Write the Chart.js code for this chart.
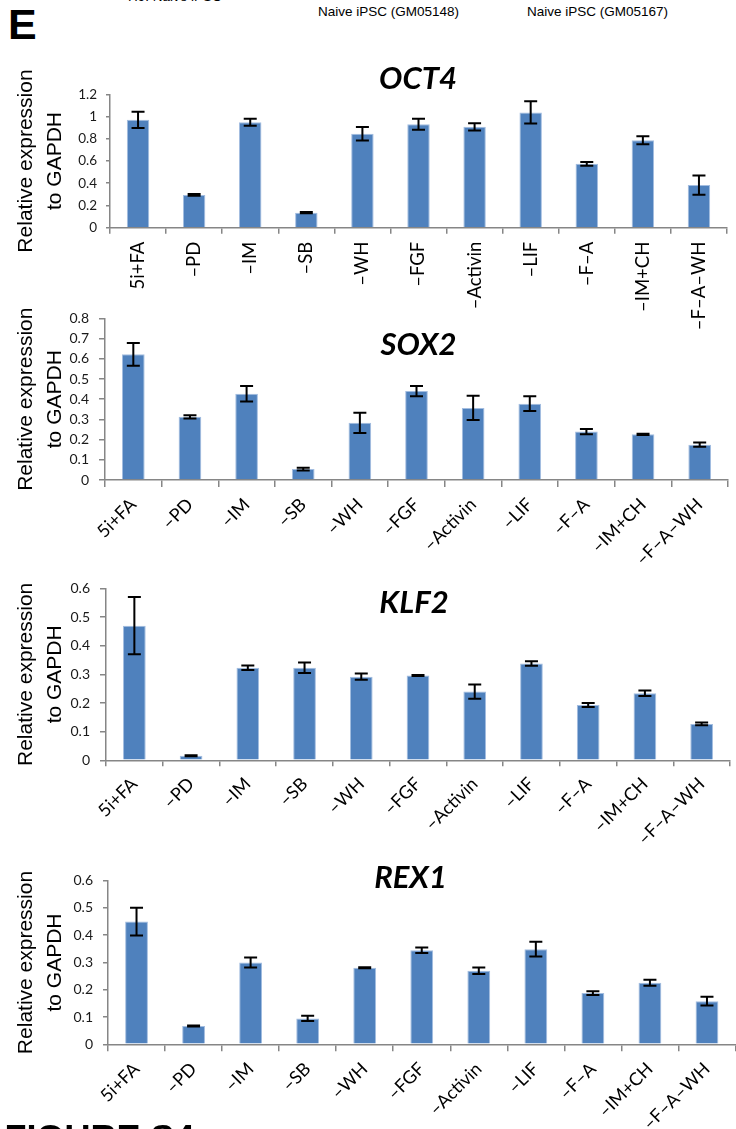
<!DOCTYPE html>
<html lang="en">
<head>
<meta charset="UTF-8">
<title>Figure S4E - naive marker expression</title>
<style>
  * { margin: 0; padding: 0; box-sizing: border-box; }
  body { background: #fff; }
  #page { position: relative; width: 736px; height: 1129px; overflow: hidden; background: #fff; font-family: 'Liberation Sans', Arial, sans-serif; }
  #page canvas { position: absolute; left: 0; }
  .txt { position: absolute; white-space: nowrap; color: #000; line-height: 1; }
  .small { font-size: 13.5px; }
  .panel { font-weight: bold; font-size: 43px; }
  .fig { font-weight: bold; font-size: 36px; }
</style>
<script src="https://cdn.jsdelivr.net/npm/chart.js"></script>
</head>
<body>
<div id="page">
  <div class="txt small" style="left:128px; top:-10px;">H9: Naive iPSC</div>
  <div class="txt small" style="left:318px; top:4.5px;">Naive iPSC (GM05148)</div>
  <div class="txt small" style="left:527px; top:4.5px;">Naive iPSC (GM05167)</div>
  <div class="txt panel" style="left:8px; top:2.6px;">E</div>

  <canvas id="oct4" width="736" height="285" style="top:55px"></canvas>
  <canvas id="sox2" width="736" height="265" style="top:300px"></canvas>
  <canvas id="klf2" width="736" height="285" style="top:570px"></canvas>
  <canvas id="rex1" width="736" height="269" style="top:860px"></canvas>

  <div class="txt fig" style="left:4.5px; top:1120.5px;">FIGURE S4</div>
</div>

<script>
// conditions (x categories)
const conditions = ['5i+FA', '–PD', '–IM', '–SB', '–WH', '–FGF', '–Activin', '–LIF', '–F–A', '–IM+CH', '–F–A–WH'];

// values, relative to GAPDH
const oct4Values = [0.97, 0.295, 0.948, 0.135, 0.845, 0.93, 0.907, 1.037, 0.575, 0.787, 0.383];
const oct4Errors = [0.073, 0.008, 0.032, 0.006, 0.06, 0.05, 0.032, 0.1, 0.017, 0.036, 0.087];

const sox2Values = [0.622, 0.313, 0.427, 0.054, 0.283, 0.44, 0.357, 0.378, 0.24, 0.226, 0.175];
const sox2Errors = [0.056, 0.008, 0.038, 0.007, 0.05, 0.025, 0.06, 0.036, 0.013, 0.003, 0.011];

const klf2Values = [0.47, 0.016, 0.323, 0.323, 0.292, 0.296, 0.24, 0.338, 0.193, 0.234, 0.127];
const klf2Errors = [0.1, 0.002, 0.008, 0.018, 0.011, 0.002, 0.025, 0.008, 0.007, 0.01, 0.005];

const rex1Values = [0.45, 0.067, 0.30, 0.095, 0.281, 0.345, 0.27, 0.349, 0.188, 0.226, 0.158];
const rex1Errors = [0.051, 0.002, 0.018, 0.01, 0.002, 0.01, 0.012, 0.027, 0.007, 0.011, 0.016];

// y tick labels
const oct4Ticks = [0, 0.2, 0.4, 0.6, 0.8, 1, 1.2];
const sox2Ticks = [0, 0.1, 0.2, 0.3, 0.4, 0.5, 0.6, 0.7, 0.8];
const klf2Ticks = [0, 0.1, 0.2, 0.3, 0.4, 0.5, 0.6];
const rex1Ticks = [0, 0.1, 0.2, 0.3, 0.4, 0.5, 0.6];

const axisGrey = '#868686';

// black error bars with caps
const errorBars = {
  id: 'errorBars',
  afterDatasetsDraw(chart) {
    const ctx = chart.ctx;
    const ds = chart.data.datasets[0];
    const y = chart.scales.y;
    const bars = chart.getDatasetMeta(0).data;
    ctx.save();
    ctx.strokeStyle = '#000';
    ctx.lineWidth = 2;
    bars.forEach((bar, i) => {
      const v = ds.data[i], e = ds.errors[i];
      const top = y.getPixelForValue(v + e);
      const bot = y.getPixelForValue(v - e);
      ctx.beginPath();
      ctx.moveTo(bar.x, top); ctx.lineTo(bar.x, bot);
      ctx.moveTo(bar.x - 6.5, top); ctx.lineTo(bar.x + 6.5, top);
      ctx.moveTo(bar.x - 6.5, bot); ctx.lineTo(bar.x + 6.5, bot);
      ctx.stroke();
    });
    ctx.restore();
  }
};

// gene name, bold italic, sits partly inside the plot like the original
const geneTitle = {
  id: 'geneTitle',
  afterDraw(chart, args, opts) {
    const ctx = chart.ctx;
    ctx.save();
    ctx.font = 'italic bold 31px Lato, "Open Sans", sans-serif';
    ctx.fillStyle = '#000';
    ctx.textAlign = 'center';
    ctx.textBaseline = 'alphabetic';
    ctx.fillText(opts.text, opts.x, opts.y);
    ctx.restore();
  }
};

function makeChart(id, gene, values, errors, ticks, c) {
  return new Chart(document.getElementById(id), {
    type: 'bar',
    data: {
      labels: conditions,
      datasets: [{
        data: values,
        errors: errors,
        backgroundColor: '#4f81bd',
        borderColor: '#a3bde0',
        borderWidth: 1,
        categoryPercentage: 1,
        barPercentage: 0.4
      }]
    },
    options: {
      responsive: false,
      animation: false,
      devicePixelRatio: 1,
      layout: { padding: { top: c.top, right: c.right, left: 0, bottom: 0 } },
      plugins: {
        legend: { display: false },
        tooltip: { enabled: false },
        geneTitle: { text: gene, x: c.titleX, y: c.titleY }
      },
      scales: {
        x: {
          grid: { drawOnChartArea: false, tickLength: c.xTickLen, color: axisGrey, lineWidth: 1.5 },
          border: { color: axisGrey, width: 1.5 },
          ticks: {
            autoSkip: false, minRotation: c.rot, maxRotation: c.rot, padding: c.xPad,
            color: '#000', font: { family: 'Lato, "Open Sans", sans-serif', size: c.xFont }
          },
          afterFit: s => { s.height = c.xh; }
        },
        y: {
          min: 0,
          max: ticks[ticks.length - 1],
          afterBuildTicks: s => { s.ticks = ticks.map(v => ({ value: v })); },
          grid: { drawOnChartArea: false, tickLength: c.yTickLen, color: axisGrey, lineWidth: 1.5 },
          border: { color: axisGrey, width: 1.5 },
          ticks: {
            padding: c.yPad, color: '#1a1a1a',
            font: { family: 'Lato, "Open Sans", sans-serif', size: c.yFont },
            callback: v => String(Math.round(v * 10) / 10)
          },
          title: {
            display: true,
            text: ['Relative expression', 'to GAPDH'],
            color: '#000',
            font: { family: '"Liberation Sans", Arial, sans-serif', size: 21, lineHeight: 1.38 },
            padding: { top: 11.5, bottom: 0 }
          },
          afterFit: s => { s.width = c.left; }
        }
      }
    },
    plugins: [errorBars, geneTitle]
  });
}

makeChart('oct4', 'OCT4', oct4Values, oct4Errors, oct4Ticks,
  { top: 39.3, right: 9, left: 110, xh: 112.3, rot: 90, xFont: 18.5, yFont: 13.5,
    xTickLen: 6, xPad: 8, yTickLen: 4, yPad: 9, titleX: 418, titleY: 34 });
makeChart('sox2', 'SOX2', sox2Values, sox2Errors, sox2Ticks,
  { top: 15, right: 8, left: 105, xh: 85, rot: 45, xFont: 18, yFont: 14,
    xTickLen: 7, xPad: 7, yTickLen: 6, yPad: 10, titleX: 418.5, titleY: 55 });
makeChart('klf2', 'KLF2', klf2Values, klf2Errors, klf2Ticks,
  { top: 15.7, right: 6, left: 106, xh: 94.7, rot: 45, xFont: 18, yFont: 14,
    xTickLen: 6, xPad: 7, yTickLen: 6, yPad: 10, titleX: 414, titleY: 42.7 });
makeChart('rex1', 'REX1', rex1Values, rex1Errors, rex1Ticks,
  { top: 20.7, right: 0.5, left: 108, xh: 84.7, rot: 45, xFont: 18, yFont: 14,
    xTickLen: 7, xPad: 7, yTickLen: 5, yPad: 10, titleX: 410.5, titleY: 28.3 });
</script>
</body>
</html>
